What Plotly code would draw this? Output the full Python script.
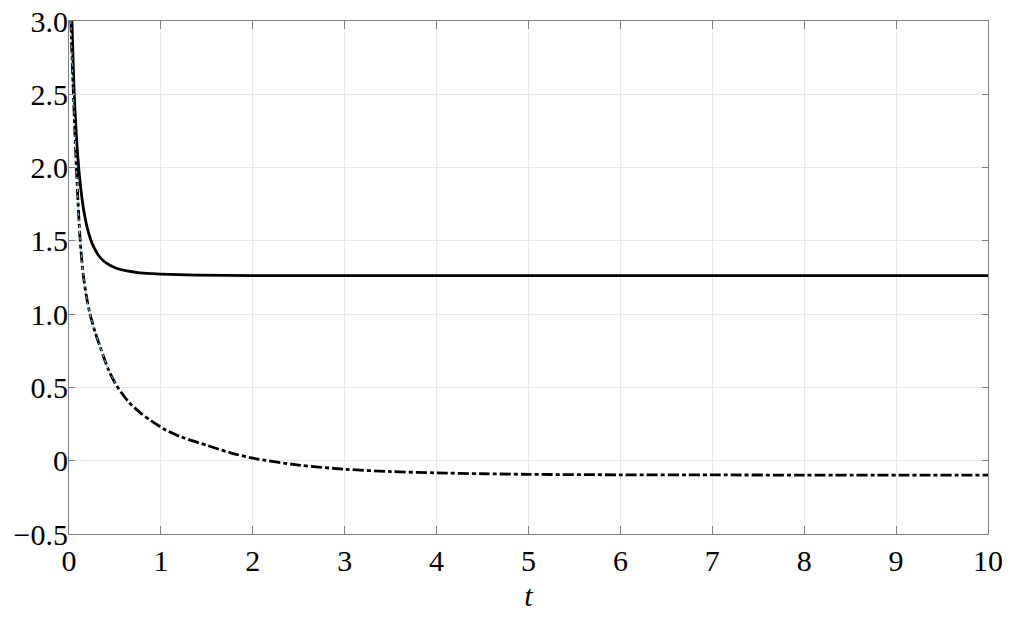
import plotly.graph_objects as go

# values
solid_t = [0.032, 0.057, 0.080, 0.100, 0.125, 0.150, 0.175, 0.200, 0.230, 0.270, 0.320,
           0.380, 0.450, 0.530, 0.630, 0.750, 0.900, 1.100, 1.400, 2.000, 10.0]
solid_v = [3.00, 2.50, 2.22, 2.04, 1.875, 1.75, 1.658, 1.586, 1.52, 1.457, 1.402,
           1.361, 1.332, 1.310, 1.295, 1.284, 1.277, 1.271, 1.266, 1.263, 1.263]

dash_t = [0.020, 0.045, 0.072, 0.097, 0.122, 0.155, 0.190, 0.225, 0.280, 0.340, 0.430,
          0.520, 0.650, 0.780, 0.900, 1.05, 1.23, 1.5, 1.75, 2.0, 2.5, 3.0, 3.5, 4.0,
          4.5, 5.0, 6.0, 7.0, 8.0, 10.0]
dash_v = [3.00, 2.55, 2.12, 1.78, 1.50, 1.27, 1.12, 1.01, 0.885, 0.775, 0.62,
          0.51, 0.40, 0.325, 0.27, 0.21, 0.16, 0.105, 0.055, 0.018, -0.030, -0.058,
          -0.074, -0.083, -0.089, -0.093, -0.096, -0.097, -0.098, -0.098]

# faint light-blue dotted series lying under the dash-dot curve near t = 0
fine_t = dash_t[:12]
fine_v = dash_v[:12]

x_ticks = list(range(0, 11))
y_ticks = [-0.5, 0, 0.5, 1.0, 1.5, 2.0, 2.5, 3.0]
y_labels = ["\u22120.5", "0", "0.5", "1.0", "1.5", "2.0", "2.5", "3.0"]

FONT = "'Times New Roman', 'Liberation Serif', Tinos, serif"
AXIS_GREY = "#7f7f7f"
GRID_GREY = "#e8e8e8"

fig = go.Figure()

fig.add_trace(go.Scatter(
    x=solid_t, y=solid_v, mode="lines",
    line=dict(color="black", width=2.8, shape="spline", smoothing=0.8),
    showlegend=False,
))
fig.add_trace(go.Scatter(
    x=dash_t, y=dash_v, mode="lines",
    line=dict(color="black", width=2.8, dash="11px,3px,4px,3px",
              shape="spline", smoothing=0.8),
    showlegend=False,
))
fig.add_trace(go.Scatter(
    x=fine_t, y=fine_v, mode="lines",
    line=dict(color="#7cc0ec", width=1, dash="dot", shape="spline", smoothing=0.8),
    showlegend=False,
))

# the page body keeps its 8px margin; leave room so the "10" label is not clipped
fig.update_layout(
    width=1003, height=608,
    margin=dict(l=61, r=23, t=13, b=82, autoexpand=False),
    paper_bgcolor="white", plot_bgcolor="white",
    font=dict(family=FONT, size=30, color="black"),
)

fig.update_xaxes(
    range=[0, 10], tickvals=x_ticks, automargin=False,
    showgrid=True, gridcolor=GRID_GREY, gridwidth=1, zeroline=False,
    showline=True, linecolor=AXIS_GREY, linewidth=1, mirror="ticks",
    ticks="inside", ticklen=8, tickcolor=AXIS_GREY, tickwidth=1,
    ticklabeloverflow="allow",
    tickfont=dict(family=FONT, size=30, color="black"),
    title=dict(text="<i>t</i>", font=dict(family=FONT, size=30), standoff=8),
)
fig.update_yaxes(
    range=[-0.5, 3.0], tickvals=y_ticks, ticktext=y_labels, automargin=False,
    showgrid=True, gridcolor=GRID_GREY, gridwidth=1, zeroline=False,
    showline=True, linecolor=AXIS_GREY, linewidth=1, mirror="ticks",
    ticks="inside", ticklen=6, tickcolor=AXIS_GREY, tickwidth=1,
    ticklabelstandoff=-6, ticklabeloverflow="allow",
    tickfont=dict(family=FONT, size=30, color="black"),
)

fig.write_html("out.html")
